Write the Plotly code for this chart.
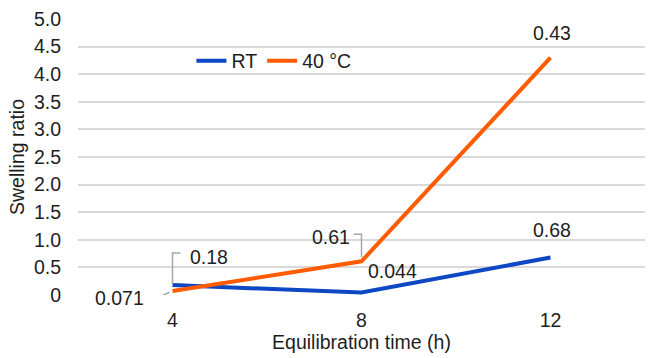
import plotly.graph_objects as go

times = ["4", "8", "12"]
rt_values = [0.18, 0.044, 0.68]
hot_values = [0.071, 0.61, 4.3]
rt_labels = ["0.18", "0.044", "0.68"]
hot_labels = ["0.071", "0.61", "0.43"]
y_tickvals = [0, 0.5, 1.0, 1.5, 2.0, 2.5, 3.0, 3.5, 4.0, 4.5, 5.0]
y_ticktext = ["0", "0.5", "1.0", "1.5", "2.0", "2.5", "3.0", "3.5", "4.0", "4.5", "5.0"]

BLUE = "#0d47c4"
ORANGE = "#ff5b00"
GRAY = "#a6a6a6"
FONT = "Liberation Sans, Arial, sans-serif"
FS = 19.5

fig = go.Figure()
fig.add_trace(go.Scatter(x=times, y=rt_values, mode="lines", name="RT",
                         line=dict(color=BLUE, width=4)))
fig.add_trace(go.Scatter(x=times, y=hot_values, mode="lines", name="40 °C",
                         line=dict(color=ORANGE, width=4)))

# label offsets (pixels) for each data label
rt_off = [(36, 28), (31, 22), (1, 27)]
hot_off = [(-53, -7), (-31, 24), (1, 25)]
for ys, labs, offs in [(rt_values, rt_labels, rt_off), (hot_values, hot_labels, hot_off)]:
    for i, (y, t, (dx, dy)) in enumerate(zip(ys, labs, offs)):
        fig.add_annotation(x=i, y=y, xref="x", yref="y", text=t, showarrow=False,
                           xshift=dx, yshift=dy,
                           font=dict(family=FONT, size=FS, color="#1e1e1e"))

# leader lines (pixel paths anchored at data points)
leaders = [
    (0, rt_values[0], "M0,1 L0,32 L8,32"),
    (0, hot_values[0], "M-23,-6 L-13,-6 L-3,-1"),
    (1, hot_values[1], "M-8,27 L0,27 L0,4"),
]
for x, y, p in leaders:
    fig.add_shape(type="path", xref="x", yref="y", xsizemode="pixel", ysizemode="pixel",
                  xanchor=x, yanchor=y, path=p, line=dict(color=GRAY, width=1.5))

fig.update_layout(
    width=649, height=358,
    margin=dict(l=78, r=4, t=19, b=63),
    paper_bgcolor="white", plot_bgcolor="white",
    font=dict(family=FONT, size=FS, color="#1e1e1e"),
    showlegend=True,
    legend=dict(orientation="h", x=0.2, y=0.848, xanchor="left", yanchor="middle",
                bgcolor="rgba(0,0,0,0)", font=dict(size=FS), itemwidth=30,
                tracegroupgap=0),
)
fig.update_xaxes(type="category", range=[-0.5, 2.5], showgrid=False, showline=False,
                 zeroline=False, ticks="outside", ticklen=8, tickcolor="rgba(0,0,0,0)",
                 title=dict(text="Equilibration time (h)", standoff=4,
                            font=dict(size=FS)))
fig.update_yaxes(range=[0, 5], tickvals=y_tickvals, ticktext=y_ticktext,
                 showgrid=True, gridcolor="#d9d9d9", gridwidth=1.5, zeroline=False,
                 showline=False, ticks="outside", ticklen=12, tickcolor="rgba(0,0,0,0)",
                 title=dict(text="Swelling ratio", standoff=4, font=dict(size=FS)))

fig.write_html("out.html")
